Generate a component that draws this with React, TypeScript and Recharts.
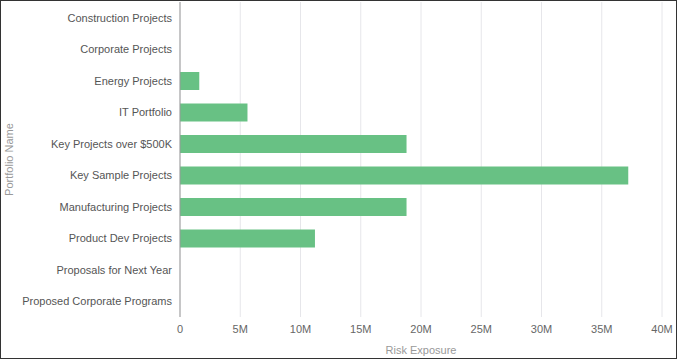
import React from 'react';
import { Bar, BarChart, CartesianGrid, XAxis, YAxis } from 'recharts';

const portfolios = [
  'Construction Projects',
  'Corporate Projects',
  'Energy Projects',
  'IT Portfolio',
  'Key Projects over $500K',
  'Key Sample Projects',
  'Manufacturing Projects',
  'Product Dev Projects',
  'Proposals for Next Year',
  'Proposed Corporate Programs',
];

const riskExposure = [0, 0, 1.6e6, 5.6e6, 18.8e6, 37.2e6, 18.8e6, 11.2e6, 0, 0];

const xTicks = [0, 5e6, 10e6, 15e6, 20e6, 25e6, 30e6, 35e6, 40e6];

const data = portfolios.map((name, i) => ({ name, value: riskExposure[i] }));

const formatM = (v: number) => (v === 0 ? '0' : `${v / 1e6}M`);

const CategoryTick = (props: any) => {
  const { x, y, payload } = props;
  return (
    <text x={x} y={y} dy="0.355em" textAnchor="end" fill="#555" fontSize={11}>
      {payload.value}
    </text>
  );
};

export default function App() {
  return (
    <div
      style={{
        position: 'absolute',
        top: 0,
        left: 0,
        width: 677,
        height: 359,
        boxSizing: 'border-box',
        border: '1px solid #333',
        background: '#fff',
        fontFamily: '"Liberation Sans", Arial, sans-serif',
      }}
    >
      <div style={{ position: 'absolute', top: -1, left: -1 }}>
        <BarChart
          width={677}
          height={359}
          data={data}
          layout="vertical"
          margin={{ top: 2, right: 15, left: 0, bottom: 0 }}
          barSize={18}
        >
          <CartesianGrid horizontal={false} stroke="#e6e6ea" />
          <XAxis
            type="number"
            domain={[0, 40e6]}
            ticks={xTicks}
            tickFormatter={formatM}
            axisLine={false}
            tickLine={false}
            height={42}
            interval={0}
            tick={{ fill: '#666', fontSize: 11 }}
            label={{ value: 'Risk Exposure', position: 'insideBottom', offset: 5, fill: '#999', fontSize: 11 }}
          />
          <YAxis
            type="category"
            dataKey="name"
            width={180}
            interval={0}
            tickLine={false}
            axisLine={{ stroke: '#999' }}
            tick={<CategoryTick />}
            label={{
              value: 'Portfolio Name',
              angle: -90,
              position: 'insideLeft',
              offset: 9,
              fill: '#999',
              fontSize: 11,
              style: { textAnchor: 'middle' },
            }}
          />
          <Bar dataKey="value" fill="#68c184" isAnimationActive={false} />
        </BarChart>
      </div>
    </div>
  );
}
